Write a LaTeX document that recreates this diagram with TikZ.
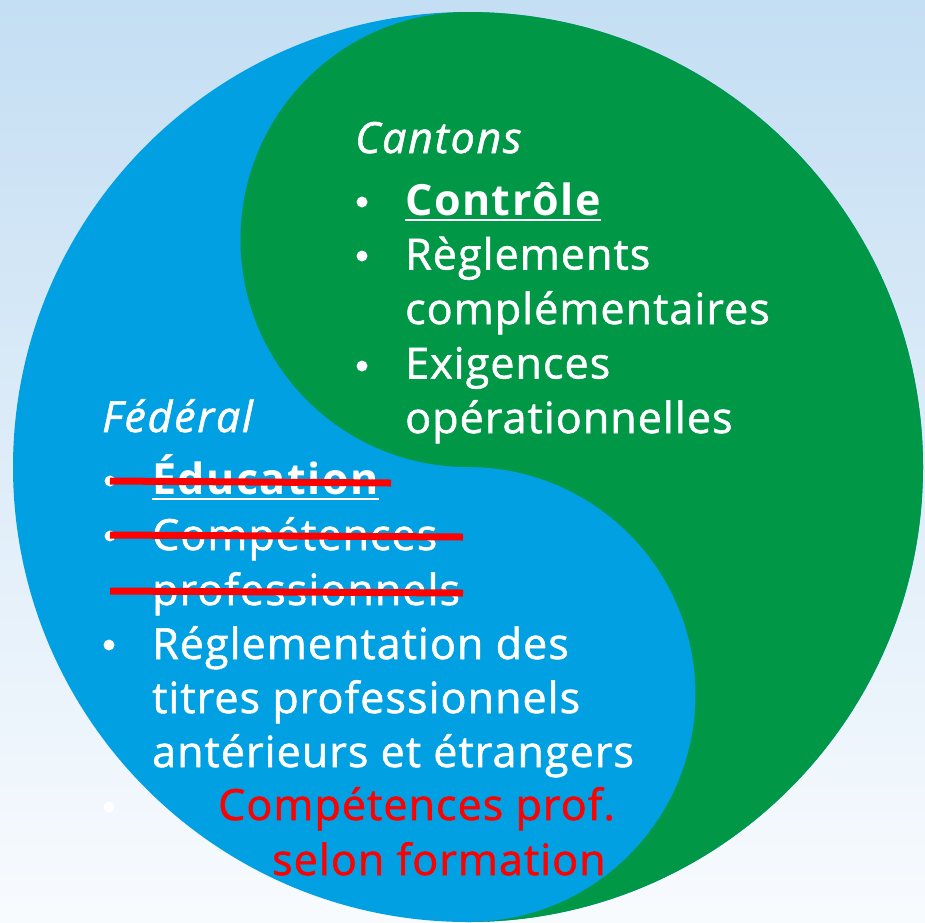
\documentclass[tikz,border=0pt]{standalone}
\usepackage{fontspec}
\setmainfont{Open Sans}
\newfontfamily\fontrg{Open Sans}[LetterSpace=2.5, FakeBold=1.3]
\newfontfamily\fontsl{Open Sans}[LetterSpace=4, FakeBold=1.3]
\newfontfamily\fontbd{Open Sans}[LetterSpace=3.5]
\definecolor{bgtop}{RGB}{196,222,243}
\definecolor{bgbot}{RGB}{248,251,254}
\definecolor{yyblue}{RGB}{0,160,227}
\definecolor{yygreen}{RGB}{0,151,70}
\definecolor{strike}{RGB}{255,0,0}
\tikzset{
  txt/.style={anchor=base west, inner sep=0pt, text=white, font=\fontsize{43}{50}\fontrg},
  txtit/.style={txt, font=\fontsize{43}{50}\fontsl\itshape},
  txtbf/.style={txt, font=\fontsize{43}{50}\fontbd\bfseries},
  txtred/.style={txt, text=strike},
  bulletdot/.style={circle, fill=white, inner sep=0pt, minimum size=11pt},
  uline/.style={white, line width=2.5pt},
  strikeline/.style={strike, line width=7pt}
}
\begin{document}
\begin{tikzpicture}[x=1pt,y=-1pt]
\useasboundingbox (0,0) rectangle (925,922);
\shade[top color=bgtop, bottom color=bgbot] (0,0) rectangle (925,922);
% yin-yang
\fill[yyblue] (468,467) circle[radius=455];
\fill[yygreen] (468,12) arc[start angle=-90, end angle=90, radius=455]
  arc[start angle=90, end angle=-90, radius=227.5]
  arc[start angle=90, end angle=270, radius=227.5] -- cycle;
% Cantons
\node[txtit] (cantons) at (355,153) {Cantons};
\node[bulletdot] (b1) at (362,202) {};
\node[txtbf] (contr) at (405,215) {Contrôle};
\draw[uline] ([yshift=-5pt]contr.base west) -- ([yshift=-5pt]contr.base east);
\node[bulletdot] (b2) at (362,256) {};
\node[txt] (regl) at (405,269.5) {Règlements};
\node[txt] (compl) at (405,324) {complémentaires};
\node[bulletdot] (b3) at (362,366) {};
\node[txt] (exig) at (405,378.5) {Exigences};
\node[txt] (oper) at (405,433) {opérationnelles};
% Federal
\node[txtit] (fed) at (102,432) {Fédéral};
\node[bulletdot] (b4) at (110,481) {};
\node[txtbf] (educ) at (152,494) {Éducation};
\draw[uline] ([yshift=-5pt]educ.base west) -- ([yshift=-5pt]educ.base east);
\node[bulletdot] (b5) at (110,536) {};
\node[txt] (comp) at (152,550) {Compétences};
\node[txt] (prof) at (152,605) {professionnels};
\node[bulletdot] (b6) at (109,645) {};
\node[txt] (reglm) at (152,659) {Réglementation des};
\node[txt] (titres) at (152,713) {titres professionnels};
\node[txt] (anter) at (152,767) {antérieurs et étrangers};
\node[bulletdot] (b7) at (109,807) {};
\node[txtred] (red1) at (218,820) {Compétences prof.};
\node[txtred] (red2) at (272,875) {selon formation};
% strike-through lines
\draw[strikeline] (110,481) -- (391,483);
\draw[strikeline] (110,535) -- (463,537);
\draw[strikeline] (110,591) -- (463,593);
\end{tikzpicture}
\end{document}
